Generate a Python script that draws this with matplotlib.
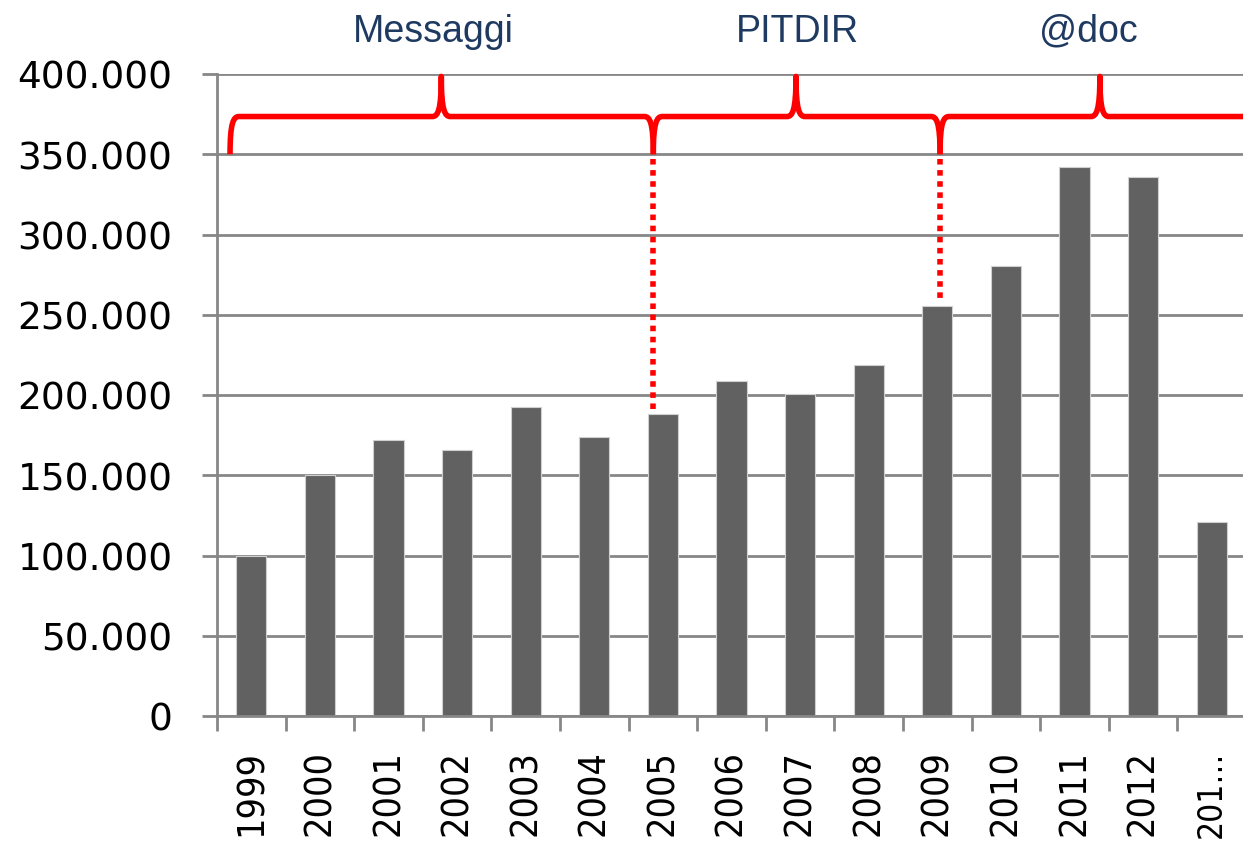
import matplotlib
matplotlib.use("Agg")
import matplotlib.pyplot as plt
from matplotlib.path import Path
from matplotlib.patches import PathPatch
from matplotlib.ticker import FuncFormatter, MultipleLocator


# data
years = ["1999", "2000", "2001", "2002", "2003", "2004", "2005",
         "2006", "2007", "2008", "2009", "2010", "2011", "2012", "201\u2026"]
messages = [100000, 150000, 172000, 166000, 192500, 174000, 188000,
            208500, 200500, 218500, 255500, 280500, 342000, 336000, 121000]

# project phases shown as braces above the bars: (start, peak, end, label)
phases = [(-0.31, 2.77, 5.86, "Messaggi"),
          (5.86, 7.94, 10.04, "PITDIR"),
          (10.04, 12.37, 14.9, "@doc")]
phase_labels_x = [2.66, 7.96, 12.20]

RED = "#ff0000"
GRID = "#878787"
BAR = "#616161"
TEXT_BLUE = "#1f3a60"


def half_spike(xa, ya, xb, yb):
    # concave curve from a horizontal run at (xa, ya) to a vertical tip at (xb, yb)
    return [(xa + 0.6 * (xb - xa), ya), (xb, ya + 0.15 * (yb - ya)), (xb, yb)]


def brace_path(x0, xm, x1, yb, ym, yt, dx=0.13):
    verts = [(x0, yb),
             (x0, ym - 0.15 * (ym - yb)), (x0 + 0.4 * dx, ym), (x0 + dx, ym),
             (xm - dx, ym)]
    verts += half_spike(xm - dx, ym, xm, yt)
    verts += [(xm, ym + 0.15 * (yt - ym)), (xm + 0.4 * dx, ym), (xm + dx, ym),
              (x1 - dx, ym),
              (x1 - 0.4 * dx, ym), (x1, ym - 0.15 * (ym - yb)), (x1, yb)]
    codes = ([Path.MOVETO] + [Path.CURVE4] * 3 + [Path.LINETO]
             + [Path.CURVE4] * 6 + [Path.LINETO] + [Path.CURVE4] * 3)
    return Path(verts, codes)


fig = plt.figure(figsize=(12.43, 8.45), dpi=100)
ax = fig.add_axes([217 / 1243, 1 - 717 / 845, 1029 / 1243, 642 / 845])

x = list(range(len(years)))
ax.bar(x, messages, width=0.44, color=BAR, edgecolor="#d0d0d0",
       linewidth=0.8, zorder=3)

ax.set_xlim(-0.5, len(years) - 0.5)
ax.set_ylim(0, 400000)
ax.yaxis.set_major_locator(MultipleLocator(50000))
ax.yaxis.set_major_formatter(
    FuncFormatter(lambda v, p: f"{int(v):,}".replace(",", ".")))
ax.grid(axis="y", color=GRID, linewidth=2, zorder=0)
ax.set_axisbelow(True)

for side in ["top", "right"]:
    ax.spines[side].set_visible(False)
for side in ["left", "bottom"]:
    ax.spines[side].set_color(GRID)
    ax.spines[side].set_linewidth(2)
    ax.spines[side].set_zorder(4)

# category labels centred, tick marks on category boundaries
ax.set_xticks(x)
labels = ax.set_xticklabels(years, rotation=90, fontsize=27,
                            family="DejaVu Sans", fontstretch="condensed")
labels[-1].set_fontsize(24)  # truncated label, keep it inside the figure
ax.set_xticks([i - 0.5 for i in range(len(years) + 1)], minor=True)
ax.tick_params(axis="x", which="major", length=0, pad=24)
ax.tick_params(axis="x", which="minor", length=11, width=2, color=GRID,
               direction="out")
ax.tick_params(axis="y", length=11, width=2, color=GRID, pad=21,
               labelsize=27)

# braces and dotted guides down to the bars
for (x0, xm, x1, label), lx in zip(phases, phase_labels_x):
    patch = PathPatch(brace_path(x0, xm, x1, 350000, 373500, 398500),
                      facecolor="none", edgecolor=RED, linewidth=4,
                      capstyle="butt", joinstyle="round", zorder=5)
    patch.set_clip_on(False)
    ax.add_patch(patch)
    ax.text(lx, 427000, label, ha="center", va="center", fontsize=27,
            color=TEXT_BLUE, family="Liberation Sans")

for xi, idx in [(5.86, 6), (10.04, 10)]:
    ax.plot([xi, xi], [347000, messages[idx] + 2000], color=RED,
            linewidth=4, linestyle=(0, (1, 1)), zorder=5)

fig.savefig("out.png", dpi=100)
